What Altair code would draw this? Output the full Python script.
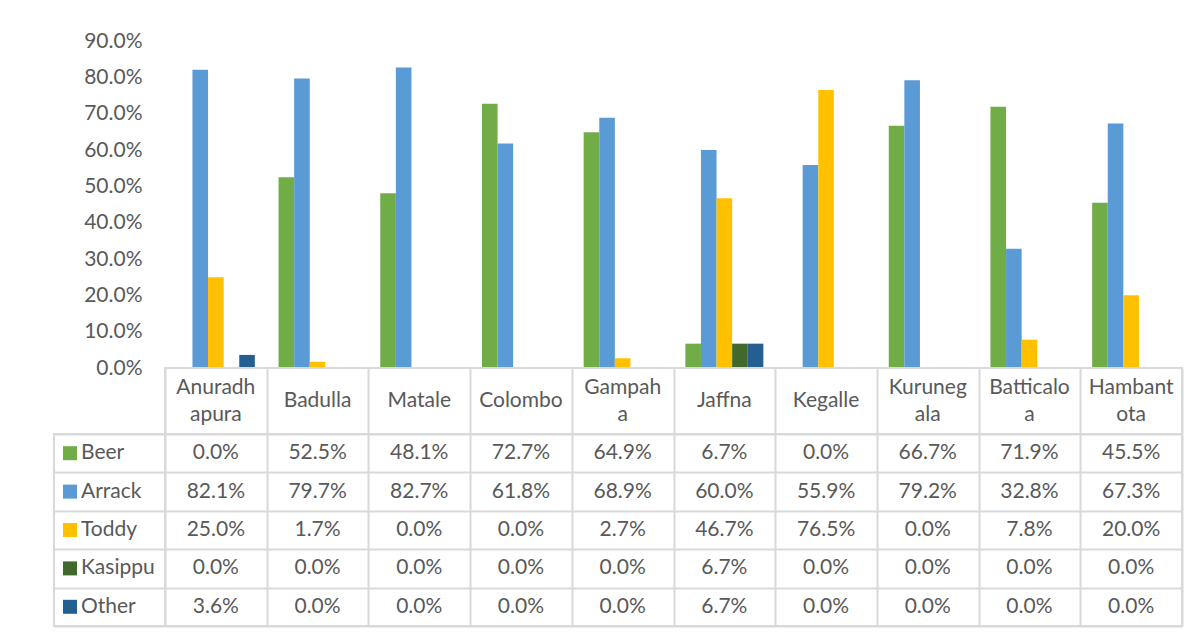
import altair as alt
import pandas as pd

# ---- data ----
districts = ["Anuradhapura", "Badulla", "Matale", "Colombo", "Gampaha",
             "Jaffna", "Kegalle", "Kurunegala", "Batticaloa", "Hambantota"]
district_labels = ["Anuradh\napura", "Badulla", "Matale", "Colombo", "Gampah\na",
                   "Jaffna", "Kegalle", "Kuruneg\nala", "Batticalo\na", "Hambant\nota"]
series = ["Beer", "Arrack", "Toddy", "Kasippu", "Other"]
colors = ["#70AD47", "#5B9BD5", "#FFC000", "#43682B", "#255E91"]

beer = [0.0, 52.5, 48.1, 72.7, 64.9, 6.7, 0.0, 66.7, 71.9, 45.5]
arrack = [82.1, 79.7, 82.7, 61.8, 68.9, 60.0, 55.9, 79.2, 32.8, 67.3]
toddy = [25.0, 1.7, 0.0, 0.0, 2.7, 46.7, 76.5, 0.0, 7.8, 20.0]
kasippu = [0.0, 0.0, 0.0, 0.0, 0.0, 6.7, 0.0, 0.0, 0.0, 0.0]
other = [3.6, 0.0, 0.0, 0.0, 0.0, 6.7, 0.0, 0.0, 0.0, 0.0]

y_ticks = [0.0, 0.1, 0.2, 0.3, 0.4, 0.5, 0.6, 0.7, 0.8, 0.9]

# ---- build tables ----
values_by_series = {"Beer": beer, "Arrack": arrack, "Toddy": toddy,
                    "Kasippu": kasippu, "Other": other}
rows = []
for s in series:
    for d, v in zip(districts, values_by_series[s]):
        rows.append({"district": d, "series": s, "value": v / 100.0})
df = pd.DataFrame(rows)
hdr_df = pd.DataFrame({
    "district": districts,
    "label": district_labels,
    "nlines": [lbl.count("\n") + 1 for lbl in district_labels],
})
leg_df = pd.DataFrame({"series": series})
blank_df = pd.DataFrame({"v": [0]})

FONT = "Lato"
TXT = "#595959"
GRID = "#d9d9d9"
FS = 21
LH = 27
W_MAIN = 1017
W_LEFT = 111
H_PLOT = 327
H_HDR = 66
H_TAB = 192


def xscale():
    return alt.Scale(domain=districts, paddingInner=0, paddingOuter=0)


def yscale_rows():
    return alt.Scale(domain=series, paddingInner=0, paddingOuter=0)


color_scale = alt.Scale(domain=series, range=colors)

grid_axis = dict(grid=True, gridColor=GRID, gridWidth=2, tickBand="extent",
                 labels=False, ticks=False, domain=False, title=None)

no_stroke = alt.ViewBackground(stroke="transparent")
box_stroke = alt.ViewBackground(stroke=GRID, strokeWidth=2)

# ---- bar chart ----
bars = alt.Chart(df).mark_bar().encode(
    x=alt.X("district:N", sort=districts, scale=xscale(), axis=None),
    xOffset=alt.XOffset("series:N", sort=series,
                        scale=alt.Scale(domain=series, paddingInner=0, paddingOuter=0.76)),
    y=alt.Y("value:Q", scale=alt.Scale(domain=[0, 0.9], nice=False),
            axis=alt.Axis(values=y_ticks, format=".1%", grid=False, domain=False,
                          ticks=False, labelPadding=23, labelFont=FONT,
                          labelFontSize=FS, labelColor=TXT, title=None)),
    color=alt.Color("series:N", scale=color_scale, legend=None),
).properties(width=W_MAIN, height=H_PLOT, view=no_stroke)

# ---- header row (district names) ----
hdr_base = alt.Chart(hdr_df).encode(
    x=alt.X("district:N", sort=districts, scale=xscale(), axis=alt.Axis(**grid_axis)),
    text="label:N",
)
hdr_one = hdr_base.mark_text(
    font=FONT, fontSize=FS, color=TXT, lineBreak="\n", lineHeight=LH, baseline="middle"
).transform_filter("datum.nlines == 1")
hdr_two = hdr_base.mark_text(
    font=FONT, fontSize=FS, color=TXT, lineBreak="\n", lineHeight=LH, baseline="middle",
    dy=-LH / 2
).transform_filter("datum.nlines == 2")
header = alt.layer(hdr_one, hdr_two).properties(width=W_MAIN, height=H_HDR, view=box_stroke)

# ---- data table ----
table = alt.Chart(df).mark_text(font=FONT, fontSize=FS, color=TXT).encode(
    x=alt.X("district:N", sort=districts, scale=xscale(), axis=alt.Axis(**grid_axis)),
    y=alt.Y("series:N", sort=series, scale=yscale_rows(), axis=alt.Axis(**grid_axis)),
    text=alt.Text("value:Q", format=".1%"),
).properties(width=W_MAIN, height=H_TAB, view=box_stroke)

# ---- legend column ----
leg_base = alt.Chart(leg_df).encode(
    y=alt.Y("series:N", sort=series, scale=yscale_rows(), axis=alt.Axis(**grid_axis))
)
leg_sq = leg_base.mark_square(size=196, filled=True, opacity=1).encode(
    x=alt.value(16),
    color=alt.Color("series:N", scale=color_scale, legend=None),
)
leg_tx = leg_base.mark_text(align="left", font=FONT, fontSize=FS, color=TXT).encode(
    x=alt.value(27),
    text="series:N",
)
legend = alt.layer(leg_sq, leg_tx).properties(width=W_LEFT, height=H_TAB, view=box_stroke)

# ---- blanks ----
blank1 = alt.Chart(blank_df).mark_point(opacity=0).encode(
    x=alt.value(0), y=alt.value(0)
).properties(width=W_LEFT, height=H_PLOT, view=no_stroke)
blank2 = alt.Chart(blank_df).mark_point(opacity=0).encode(
    x=alt.value(0), y=alt.value(0)
).properties(width=W_LEFT, height=H_HDR, view=no_stroke)

chart = alt.concat(
    blank1, bars, blank2, header, legend, table,
    columns=2, spacing=0, bounds="flush", align="each"
).properties(
    padding={"left": 42, "top": 21, "right": 5, "bottom": 5}
).configure(font=FONT)

chart.save("out.html", embed_options={"renderer": "svg", "actions": False})
